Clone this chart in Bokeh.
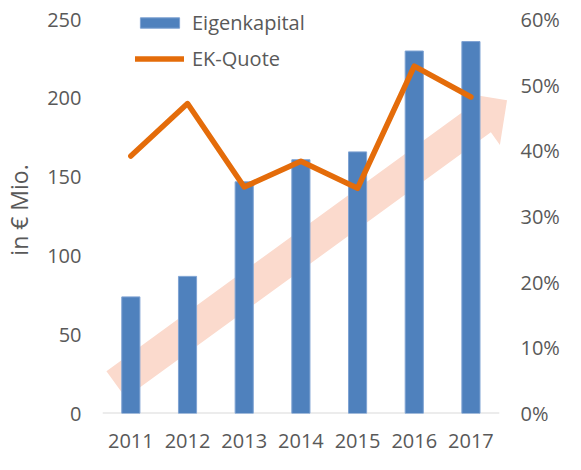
import numpy as np
from bokeh.plotting import figure
from bokeh.models import (Range1d, LinearAxis, NumeralTickFormatter, FixedTicker,
                          Legend, LegendItem)
from bokeh.embed import file_html
from bokeh.resources import INLINE

# ---- data ----
years = [2011, 2012, 2013, 2014, 2015, 2016, 2017]
eigenkapital = [74, 87, 147, 161, 166, 230, 236]
ek_quote = [0.392, 0.472, 0.345, 0.384, 0.343, 0.529, 0.482]
left_ticks = [0, 50, 100, 150, 200, 250]
right_ticks = [0, 0.1, 0.2, 0.3, 0.4, 0.5, 0.6]
bar_label = "Eigenkapital"
line_label = "EK-Quote"
y_axis_label = "in € Mio."

# ---- layout ----
W, H = 565, 454
ML, MR, MT, MB = 100, 55, 6, 41
FW = W - ML - MR
FH = H - MT - MB
HEADROOM = 13          # px of frame above the 250 / 60% level (room for legend)
X0 = years[0] - 0.5
X1 = X0 + FW / 56.96
Y_MAX = 250
Y1 = Y_MAX * FH / (FH - HEADROOM)
P1 = 0.6 * Y1 / Y_MAX

TEXT = "#595959"
FONT = "Open Sans"

p = figure(width=W, height=H, output_backend="svg", toolbar_location=None,
           x_range=Range1d(X0, X1), y_range=Range1d(0, Y1),
           min_border_left=ML, min_border_right=MR, min_border_top=MT,
           min_border_bottom=MB)
p.extra_y_ranges = {"pct": Range1d(0, P1)}
p.outline_line_color = None
p.xgrid.visible = False
p.ygrid.visible = False
p.background_fill_color = "white"
p.border_fill_color = "white"

# ---- decorative arrow (pale salmon), built in pixel space ----
sx = FW / (X1 - X0)
sy = FH / Y1
tail = np.array([0.239 * sx, 18.4 * sy])
tip = np.array([7.137 * sx, 198.8 * sy])
d = tip - tail
u = d / np.hypot(*d)
n = np.array([-u[1], u[0]])
hw, hhw, hl = 16.5, 32.0, 32.0
base = tip - hl * u
pts = [tail + hw * n, base + hw * n, base + hhw * n, tip,
       base - hhw * n, base - hw * n, tail - hw * n]
ax = [X0 + q[0] / sx for q in pts]
ay = [q[1] / sy for q in pts]
p.patch(ax, ay, fill_color="#FBDACD", line_color=None)

# ---- baseline ----
p.segment(x0=[X0], x1=[X0 + len(years)], y0=[0], y1=[0],
          line_color="#D9D9D9", line_width=2)

# ---- bars ----
bars = p.vbar(x=years, top=eigenkapital, width=0.32, bottom=0,
              fill_color="#4F81BD", line_color="#7FA3D3", line_width=1)

# ---- line ----
ln = p.line(x=years, y=ek_quote, y_range_name="pct", line_color="#E46C0A",
            line_width=5.5, line_cap="round", line_join="round")

# ---- axes ----
yl = p.yaxis[0]
yl.ticker = FixedTicker(ticks=left_ticks)
yl.axis_label = y_axis_label
yl.axis_label_text_font = FONT
yl.axis_label_text_font_size = "23px"
yl.axis_label_text_font_style = "normal"
yl.axis_label_text_color = TEXT
yl.axis_label_standoff = 9

yr = LinearAxis(y_range_name="pct", ticker=FixedTicker(ticks=right_ticks),
                formatter=NumeralTickFormatter(format="0%"))
p.add_layout(yr, "right")

xa = p.xaxis[0]
xa.ticker = FixedTicker(ticks=years)

for a, so in ((yl, 21), (yr, 10), (xa, 20)):
    a.axis_line_color = None
    a.major_tick_line_color = None
    a.minor_tick_line_color = None
    a.major_tick_out = 0
    a.major_tick_in = 0
    a.major_label_standoff = so
    a.major_label_text_font = FONT
    a.major_label_text_font_size = "20px"
    a.major_label_text_color = TEXT

# ---- legend ----
legend = Legend(items=[LegendItem(label=bar_label, renderers=[bars]),
                       LegendItem(label=line_label, renderers=[ln])],
                location=(33, 341), orientation="vertical",
                glyph_width=49, glyph_height=13, label_standoff=8, spacing=9,
                padding=0, margin=0, border_line_color=None,
                background_fill_alpha=0,
                label_text_font=FONT, label_text_font_size="20px",
                label_text_color=TEXT)
p.add_layout(legend)

open("out.html", "w").write(file_html(p, INLINE))
